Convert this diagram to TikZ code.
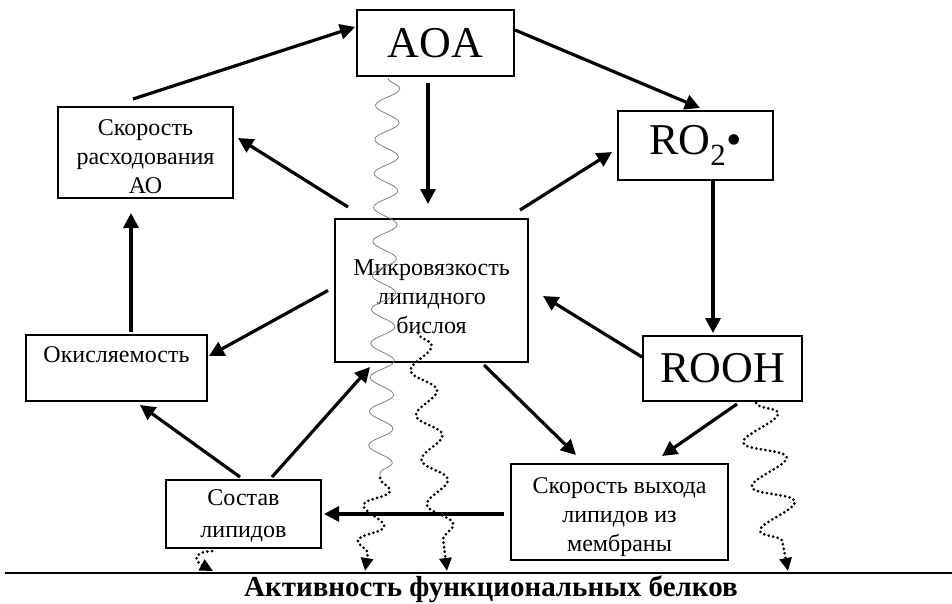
\documentclass[tikz,border=0pt]{standalone}
\usepackage{fontspec}
\setmainfont{Liberation Serif}
\usetikzlibrary{arrows.meta,decorations.pathmorphing}
\begin{document}
\begin{tikzpicture}[x=1pt,y=-1pt,
  box/.style={draw,line width=2pt,align=center,inner sep=0pt,font=\fontsize{24}{29}\selectfont},
  bigbox/.style={box,font=\fontsize{44}{50}\selectfont},
  txt/.style={align=center,inner sep=0pt,font=\fontsize{24}{29}\selectfont},
  arr/.style={line width=3.2pt,-{Triangle[length=15pt,width=15pt]}},
  dotwave/.style={line width=3pt,line cap=round,dash pattern=on 0pt off 4.6pt,
     -{Triangle[length=13pt,width=12pt]},decorate},
  greywave/.style={draw=gray,line width=0.8pt,decorate,
     decoration={snake,amplitude=12pt,segment length=34pt}}]
\useasboundingbox (0,0) rectangle (952,604);

% boxes
\node[bigbox,minimum width=157pt,minimum height=66pt] (aoa) at (435.5,43) {AOA};
\node[bigbox,minimum width=155pt,minimum height=69pt] (ro2) at (695.5,145.5) {RO\textsubscript{2}•};
\node[bigbox,minimum width=159pt,minimum height=65pt] (rooh) at (722.5,368.5) {ROOH};
\node[box,minimum width=175pt,minimum height=91pt] (rate) at (145.5,152.5) {};
\node[txt] (ratetxt) at (145.5,157) {Скорость\\расходования\\АО};
\node[box,minimum width=181pt,minimum height=66pt] (oxid) at (116.5,368) {};
\node[txt] (oxidtxt) at (116.5,355) {Окисляемость};
\node[box,minimum width=193pt,minimum height=143pt] (micro) at (431.5,290.5) {};
\node[txt] (microtxt) at (431.5,297) {Микровязкость\\липидного\\бислоя};
\node[box,minimum width=217pt,minimum height=96pt] (exit) at (619.5,512) {};
\node[txt] (exittxt) at (619.5,517) {Скорость выхода\\липидов из\\мембраны};
\node[box,minimum width=155pt,minimum height=68pt] (comp) at (243.5,514) {};
\node[txt,font=\fontsize{24}{32}\selectfont] (comptxt) at (243.5,516) {Состав\\липидов};

% bottom line and label
\coordinate (bl) at (5,573);
\coordinate (br) at (952,573);
\draw[line width=1.4pt] (bl) -- (br);
\node[font=\fontsize{29}{34}\selectfont\bfseries,inner sep=0pt] (act) at (491,589) {Активность функциональных белков};

% arrows
\draw[arr] ([shift={(-12.5,-7)}]rate.north) -- ([shift={(-1,-16)}]aoa.west);
\draw[arr] ([shift={(0,-13)}]aoa.east) -- ([shift={(4.5,-2)}]ro2.north);
\draw[arr] ([shift={(-7.5,6)}]aoa.south) -- ([shift={(-3.5,-14)}]micro.north);
\draw[arr] ([shift={(88.5,-8)}]micro.north) -- ([shift={(-5,6.5)}]ro2.west);
\draw[arr] ([shift={(17.5,0)}]ro2.south) -- ([shift={(-9.5,-2)}]rooh.north);
\draw[arr] ([shift={(0,-11.5)}]rooh.west) -- ([shift={(14,5.5)}]micro.east);
\draw[arr] ([shift={(-83.5,-11)}]micro.north) -- ([shift={(4,-14.5)}]rate.east);
\draw[arr] ([shift={(-6,0)}]micro.west) -- ([shift={(1,-12)}]oxid.east);
\draw[arr] ([shift={(14.5,-2)}]oxid.north) -- ([shift={(-14.5,14)}]rate.south);
\draw[arr] ([shift={(-3.5,-2)}]comp.north) -- ([shift={(23.5,3)}]oxid.south);
\draw[arr] ([shift={(28.5,-2)}]comp.north) -- ([shift={(-61.5,4)}]micro.south);
\draw[arr] ([shift={(52.5,2)}]micro.south) -- ([shift={(-43.5,-8)}]exit.north);
\draw[arr] ([shift={(14.5,2)}]rooh.south) -- ([shift={(42.5,-7)}]exit.north);
\draw[arr] ([shift={(-6,2)}]exit.west) -- ([shift={(2,0)}]comp.east);

% waves
\coordinate (g1a) at ([shift={(-47.5,1)}]aoa.south);
\coordinate (g1b) at (380,478);
\coordinate (g1c) at (365,571);
\draw[greywave] (g1a) -- (g1b);
\draw[dotwave,decoration={snake,amplitude=12pt,segment length=36pt,post length=8pt}] (g1b) -- (g1c);

\coordinate (d2a) at ([shift={(-13.5,-30)}]micro.south);
\coordinate (d2b) at (447,571);
\draw[dotwave,decoration={snake,amplitude=12pt,segment length=45pt,post length=10pt}] (d2a) -- (d2b);

\coordinate (d3a) at ([shift={(33.5,1)}]rooh.south);
\coordinate (d3b) at (788,571);
\draw[dotwave,decoration={snake,amplitude=20pt,segment length=45pt,post length=10pt}] (d3a) -- (d3b);

\coordinate (d4a) at ([shift={(-31.5,2)}]comp.south);
\coordinate (d4b) at (213,571);
\draw[line width=3pt,line cap=round,dash pattern=on 0pt off 4.6pt,-{Triangle[length=13pt,width=12pt]}]
  (d4a) .. controls (188,553) and (198,563) .. (d4b);
\end{tikzpicture}
\end{document}
